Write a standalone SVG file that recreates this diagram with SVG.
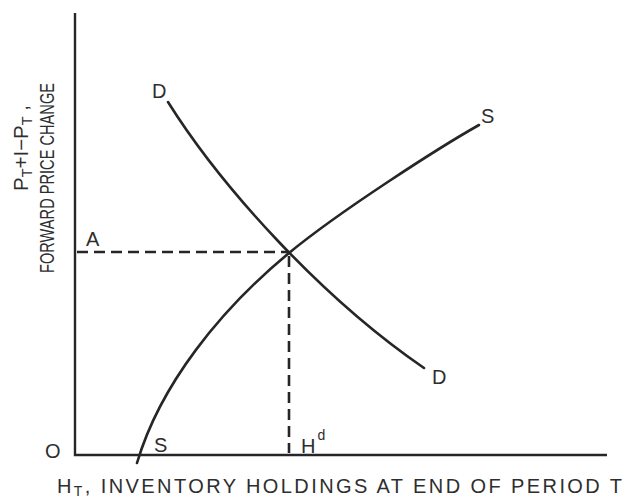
<svg xmlns="http://www.w3.org/2000/svg" width="633" height="500" viewBox="0 0 633 500">
<style>
.ln{fill:none;stroke:#262626;stroke-width:2.6;stroke-linecap:round}
.ax{fill:none;stroke:#262626;stroke-width:2.4}
.dash{fill:none;stroke:#262626;stroke-width:2.6;stroke-dasharray:11 6}
.t{font-family:"Liberation Sans","DejaVu Sans",Arial,sans-serif;fill:#2e2e2e;font-size:20px}
.sub{font-size:14px}
</style>
<rect width="633" height="500" fill="#ffffff"/>
<g id="axes">
<path class="ax" d="M75,13 V455 H607"/>
</g>
<g id="demand-curve">
<path class="ln" d="M168,102 C222,188 322,298 424,368"/>
<text class="t" x="152" y="98">D</text>
<text class="t" x="432" y="384">D</text>
</g>
<g id="supply-curve">
<path class="ln" d="M137,463 C160,385 220,310 289,253 C340,211 440,147 479,125"/>
<text class="t" x="154" y="452">S</text>
<text class="t" x="481" y="123">S</text>
</g>
<g id="connectors">
<path class="dash" d="M77,252 H289"/>
<path class="dash" d="M289,256 V453"/>
</g>
<g id="label-A"><text class="t" x="86" y="246">A</text></g>
<g id="label-O"><text class="t" x="45" y="458">O</text></g>
<g id="label-Hd"><text class="t" x="301" y="453">H<tspan class="sub" dx="2" dy="-13">d</tspan></text></g>
<g id="x-label">
<text class="t" x="57" y="493" textLength="565" lengthAdjust="spacing">H<tspan class="sub" dy="3">T</tspan><tspan dy="-3">, INVENTORY  HOLDINGS  AT  END  OF  PERIOD  T</tspan></text>
</g>
<g id="y-label">
<text class="t" transform="translate(28,191) rotate(-90)" textLength="86" lengthAdjust="spacingAndGlyphs">P<tspan class="sub" dy="4">T</tspan><tspan dy="-4">+I−P</tspan><tspan class="sub" dy="4">T</tspan><tspan dy="-4"> ,</tspan></text>
<text class="t" transform="translate(54,273) rotate(-90)" textLength="190" lengthAdjust="spacingAndGlyphs">FORWARD PRICE CHANGE</text>
</g>
</svg>
